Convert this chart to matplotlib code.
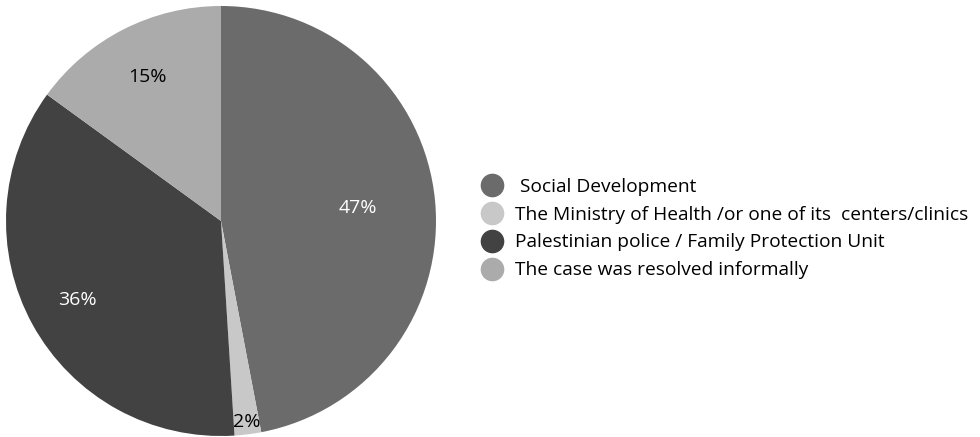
import matplotlib
matplotlib.use("Agg")
import matplotlib.pyplot as plt
from matplotlib.lines import Line2D
import numpy as np

matplotlib.rcParams["font.family"] = ["Open Sans", "DejaVu Sans"]

labels = [
    " Social Development",
    "The Ministry of Health /or one of its  centers/clinics",
    "Palestinian police / Family Protection Unit",
    "The case was resolved informally",
]
shares = [47, 2, 36, 15]
colors = ["#6b6b6b", "#c8c8c8", "#424242", "#ababab"]
text_colors = ["white", "black", "white", "black"]
label_dist = [0.64, 0.94, 0.76, 0.75]

W, H = 980, 437
fig = plt.figure(figsize=(W / 100, H / 100), dpi=100)
ax = fig.add_axes([0, 0, 1, 1])

cx, cy, r = 221, H - 221, 215
wedges, _ = ax.pie(
    shares,
    colors=colors,
    startangle=90,
    counterclock=False,
    center=(cx, cy),
    radius=r,
    frame=True,
    wedgeprops=dict(linewidth=0),
)
ax.set_xlim(0, W)
ax.set_ylim(0, H)
ax.set_aspect("equal")
ax.axis("off")

for w, val, tc, d in zip(wedges, shares, text_colors, label_dist):
    mid = np.deg2rad((w.theta1 + w.theta2) / 2)
    ax.text(
        cx + d * r * np.cos(mid),
        cy + d * r * np.sin(mid),
        f"{val}%",
        ha="center",
        va="center",
        fontsize=14,
        color=tc,
    )

handles = [
    Line2D([], [], marker="o", linestyle="none", markersize=16,
           markerfacecolor=c, markeredgecolor=c)
    for c in colors
]
fig.legend(
    handles,
    labels,
    loc="center left",
    bbox_to_anchor=(480 / W, 1 - 228.5 / H),
    frameon=False,
    fontsize=13.8,
    handletextpad=0.62,
    labelspacing=0.52,
    handlelength=1.2,
    borderpad=0,
    borderaxespad=0,
)

fig.savefig("out.png", dpi=100)
